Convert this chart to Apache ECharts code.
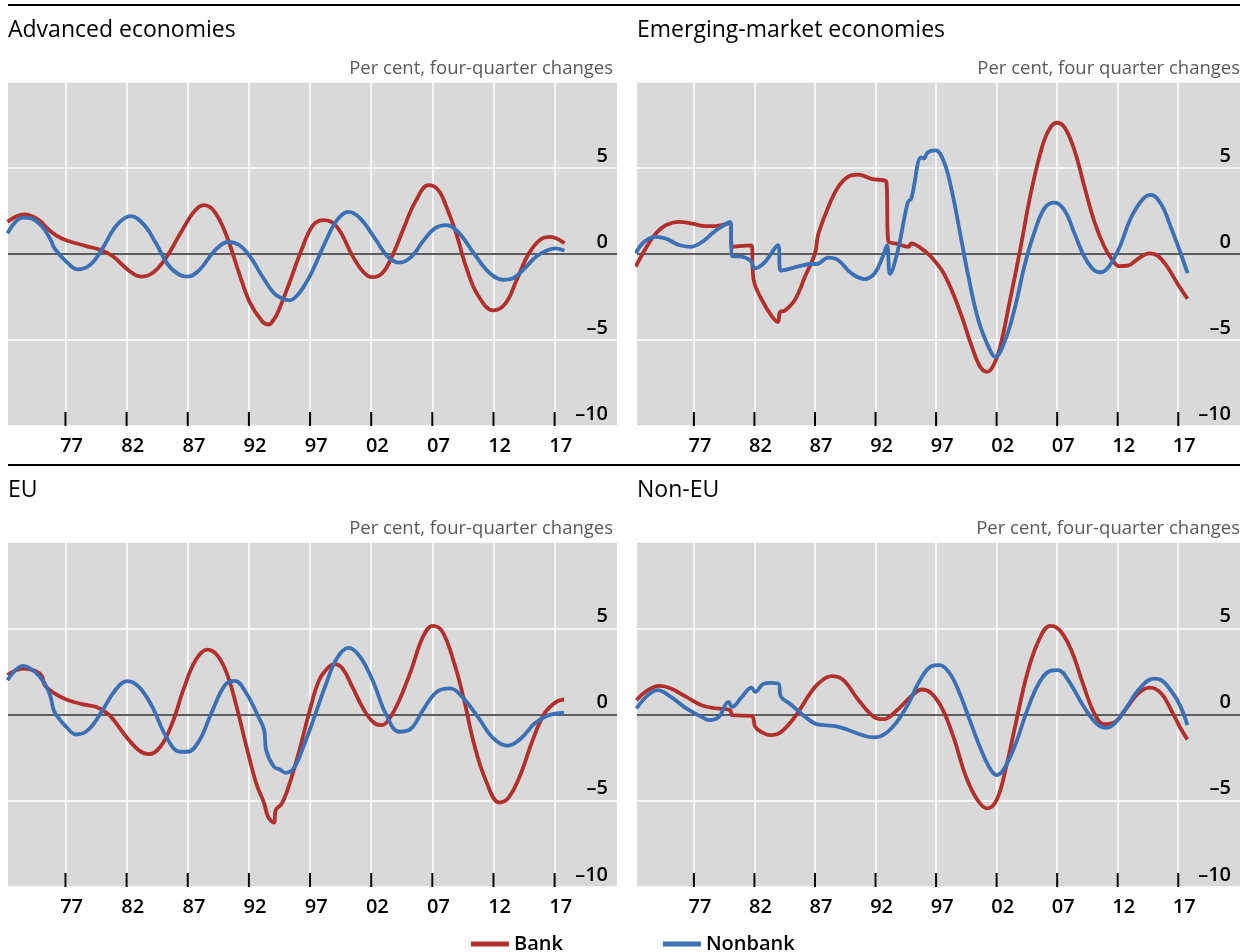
<!DOCTYPE html>
<html><head><meta charset="utf-8">
<script src="https://cdn.jsdelivr.net/npm/echarts@6/dist/echarts.min.js"></script>
<style>html,body{margin:0;padding:0;background:#fff}#c{width:1243px;height:952px}</style>
</head><body><div id="c"></div>
<script>
const panelTitles = ['Advanced economies', 'Emerging-market economies', 'EU', 'Non-EU'];
const unitLabels = ['Per cent, four-quarter changes', 'Per cent, four quarter changes', 'Per cent, four-quarter changes', 'Per cent, four-quarter changes'];
const tickYears = [1977, 1982, 1987, 1992, 1997, 2002, 2007, 2012, 2017];
const tickLabels = ['77', '82', '87', '92', '97', '02', '07', '12', '17'];
const seriesNames = ['Bank', 'Nonbank'];

const advBank = [[1972.26,1.87],[1973.0,2.2],[1973.7,2.3],[1974.4,2.15],[1975.0,1.87],[1975.5,1.5],[1976.2,1.1],[1977.05,0.8],[1978.7,0.46],[1979.9,0.23],[1980.9,-0.15],[1982.2,-0.97],[1983.15,-1.31],[1984.1,-1.12],[1985.1,-0.35],[1986.4,1.2],[1987.5,2.45],[1988.3,2.84],[1989.2,2.45],[1990.2,1.0],[1991.2,-1.12],[1992.1,-2.86],[1993.1,-3.92],[1993.6,-4.1],[1994.05,-3.8],[1994.4,-3.34],[1995.3,-1.7],[1996.3,0.23],[1997.25,1.68],[1998.15,1.97],[1999.2,1.58],[2000.5,-0.15],[2001.4,-1.08],[2002.06,-1.35],[2002.9,-1.12],[2003.7,-0.15],[2004.6,1.39],[2005.6,3.03],[2006.7,4.0],[2007.5,3.7],[2008.15,2.74],[2008.95,1.2],[2009.75,-0.73],[2010.7,-2.37],[2012.0,-3.28],[2013.0,-2.86],[2013.9,-1.5],[2014.9,0.04],[2015.85,0.85],[2016.65,1.0],[2017.8,0.62]];
const advNonbank = [[1972.26,1.2],[1973.5,2.12],[1974.2,2.07],[1975.1,1.58],[1975.8,0.81],[1976.1,0.33],[1977.06,-0.44],[1978.0,-0.89],[1979.0,-0.64],[1979.95,0.23],[1981.2,1.68],[1982.35,2.2],[1983.45,1.68],[1984.4,0.62],[1985.4,-0.64],[1986.35,-1.22],[1987.0,-1.31],[1987.95,-0.93],[1989.25,0.23],[1990.35,0.71],[1991.2,0.52],[1992.1,-0.15],[1993.1,-1.31],[1994.05,-2.28],[1994.7,-2.57],[1995.3,-2.7],[1996.1,-2.28],[1997.1,-1.12],[1998.2,0.62],[1999.2,1.97],[2000.15,2.45],[2001.1,2.07],[2002.4,0.81],[2003.35,-0.15],[2004.3,-0.5],[2005.3,-0.15],[2006.2,0.71],[2007.2,1.49],[2008.15,1.68],[2009.1,1.29],[2010.4,0.04],[2011.7,-1.12],[2012.8,-1.5],[2013.6,-1.41],[2014.55,-0.83],[2015.5,-0.15],[2016.45,0.23],[2017.1,0.33],[2017.8,0.19]];

const emeBank = [[1972.2,-0.73],[1973.03,0.33],[1973.85,1.19],[1974.67,1.67],[1975.77,1.87],[1976.86,1.77],[1977.96,1.62],[1978.78,1.62],[1980.0,1.81],[1980.15,0.42],[1980.7,0.46],[1981.74,0.5],[1981.93,-1.5],[1982.6,-2.65],[1983.44,-3.62],[1983.93,-3.94],[1984.12,-3.37],[1984.53,-3.29],[1985.36,-2.65],[1986.18,-1.31],[1987.0,0.04],[1987.27,1.15],[1988.1,2.73],[1988.9,3.88],[1989.74,4.5],[1990.56,4.62],[1991.66,4.37],[1992.9,4.17],[1993.03,0.81],[1993.85,0.58],[1994.73,0.42],[1994.95,0.62],[1995.77,0.33],[1996.5,-0.1],[1997.5,-0.97],[1998.3,-2.12],[1999.14,-3.67],[1999.96,-5.4],[2000.64,-6.56],[2001.2,-6.85],[2001.74,-6.47],[2002.29,-5.4],[2003.1,-2.7],[2003.93,0.19],[2004.75,3.28],[2005.58,5.79],[2006.26,7.14],[2006.95,7.63],[2007.63,7.34],[2008.45,5.98],[2009.27,3.86],[2010.1,1.83],[2010.92,0.39],[2011.6,-0.39],[2012.15,-0.71],[2012.84,-0.68],[2013.66,-0.29],[2014.6,0.04],[2015.3,-0.1],[2016.12,-0.77],[2016.95,-1.74],[2017.77,-2.6]];
const emeNonbank = [[1972.2,0.04],[1972.9,0.71],[1973.85,1.0],[1974.67,0.9],[1975.77,0.52],[1976.73,0.42],[1977.68,0.71],[1978.78,1.35],[1980.0,1.87],[1980.15,-0.12],[1980.97,-0.15],[1981.66,-0.38],[1982.07,-0.83],[1982.9,-0.44],[1983.93,0.52],[1984.18,-0.96],[1984.8,-0.88],[1985.9,-0.67],[1986.73,-0.58],[1987.14,-0.58],[1988.1,-0.21],[1988.9,-0.35],[1990.0,-1.12],[1991.1,-1.46],[1991.93,-1.12],[1992.6,-0.15],[1992.95,0.52],[1993.2,-1.15],[1993.85,0.23],[1994.67,3.02],[1994.95,3.21],[1995.77,5.62],[1996.0,5.55],[1996.3,5.9],[1996.95,6.02],[1997.63,5.4],[1998.3,3.67],[1999.0,1.16],[1999.68,-1.35],[2000.5,-3.86],[2001.33,-5.4],[2001.88,-5.98],[2002.7,-5.02],[2003.52,-3.09],[2004.34,-0.58],[2005.16,1.35],[2005.99,2.7],[2006.8,2.99],[2007.63,2.51],[2008.45,1.16],[2009.27,-0.19],[2010.1,-0.97],[2010.64,-1.06],[2011.33,-0.68],[2012.15,0.39],[2013.1,2.12],[2014.07,3.19],[2014.75,3.44],[2015.58,2.9],[2016.4,1.54],[2017.22,0.0],[2017.77,-1.12]];

const euBank = [[1972.26,2.28],[1973.54,2.66],[1974.5,2.53],[1975.08,2.22],[1975.3,1.7],[1976.1,1.22],[1977.06,0.87],[1978.35,0.6],[1979.63,0.41],[1980.6,-0.04],[1981.87,-1.2],[1983.0,-2.07],[1983.8,-2.3],[1984.76,-1.87],[1985.72,-0.52],[1986.68,1.51],[1987.64,3.15],[1988.6,3.76],[1989.4,3.44],[1990.2,2.37],[1991.0,0.44],[1991.8,-1.87],[1992.6,-4.0],[1993.25,-5.15],[1993.57,-5.93],[1994.05,-6.27],[1994.2,-5.54],[1994.7,-5.15],[1995.33,-4.0],[1996.13,-2.07],[1996.94,0.15],[1997.74,1.99],[1998.54,2.76],[1999.02,2.92],[1999.66,2.66],[2000.46,1.6],[2001.42,0.25],[2002.22,-0.48],[2002.87,-0.62],[2003.5,-0.23],[2004.3,0.83],[2005.27,2.57],[2006.23,4.5],[2007.03,5.14],[2007.83,4.79],[2008.8,2.95],[2009.6,0.83],[2010.4,-1.68],[2011.36,-3.8],[2012.48,-5.1],[2013.28,-4.77],[2014.24,-3.42],[2015.2,-1.49],[2016.17,0.06],[2017.13,0.73],[2017.77,0.87]];
const euNonbank = [[1972.26,1.99],[1973.54,2.82],[1974.5,2.47],[1975.3,1.8],[1975.78,1.02],[1976.1,0.15],[1977.06,-0.71],[1977.87,-1.16],[1978.83,-0.91],[1979.95,0.15],[1981.07,1.41],[1982.03,1.93],[1983.0,1.6],[1984.1,0.44],[1985.24,-1.29],[1986.36,-2.16],[1987.0,-2.16],[1987.96,-1.49],[1988.92,0.06],[1990.04,1.7],[1990.85,1.95],[1991.8,1.22],[1992.77,-0.13],[1993.25,-0.91],[1993.41,-2.07],[1994.05,-3.03],[1994.53,-3.19],[1995.0,-3.38],[1995.65,-3.13],[1996.45,-1.87],[1997.26,-0.33],[1998.22,1.6],[1999.18,3.24],[2000.14,3.86],[2001.1,3.34],[2002.22,1.8],[2003.18,0.06],[2004.3,-1.0],[2005.27,-0.81],[2006.23,0.25],[2007.35,1.31],[2008.47,1.51],[2009.44,1.02],[2010.72,-0.14],[2012.0,-1.39],[2013.12,-1.81],[2014.24,-1.39],[2015.36,-0.52],[2016.49,-0.04],[2017.77,0.1]];

const nonEuBank = [[1972.25,0.83],[1973.2,1.41],[1974.15,1.66],[1975.1,1.51],[1976.37,1.02],[1977.63,0.54],[1978.9,0.35],[1980.0,0.25],[1980.16,-0.04],[1981.75,-0.08],[1982.06,-0.71],[1982.54,-1.0],[1983.33,-1.2],[1984.28,-0.97],[1985.54,0.06],[1986.5,1.12],[1987.28,1.8],[1988.39,2.22],[1989.34,1.99],[1990.6,0.83],[1991.87,-0.14],[1992.66,-0.27],[1993.77,0.25],[1995.04,1.12],[1995.83,1.45],[1996.62,1.22],[1997.57,0.25],[1998.52,-1.49],[1999.47,-3.61],[2000.42,-4.96],[2001.2,-5.44],[2002.0,-4.96],[2002.79,-3.03],[2003.58,-0.52],[2004.53,2.37],[2005.48,4.3],[2006.43,5.14],[2007.22,4.88],[2008.17,3.73],[2009.12,1.8],[2010.07,0.06],[2010.86,-0.56],[2011.65,-0.48],[2012.6,0.25],[2013.7,1.22],[2014.66,1.56],[2015.6,1.22],[2016.56,0.06],[2017.2,-0.81],[2017.76,-1.45]];
const nonEuNonbank = [[1972.25,0.35],[1973.2,1.12],[1974.0,1.41],[1975.1,1.02],[1976.37,0.35],[1977.63,-0.14],[1978.27,-0.33],[1979.06,-0.14],[1979.85,0.73],[1980.16,0.44],[1980.96,1.02],[1981.75,1.56],[1982.06,1.31],[1982.7,1.76],[1983.33,1.83],[1983.96,1.8],[1984.2,1.02],[1984.9,0.64],[1985.86,0.06],[1986.97,-0.52],[1987.76,-0.62],[1988.7,-0.68],[1989.8,-0.91],[1990.92,-1.2],[1991.87,-1.33],[1992.82,-1.1],[1993.77,-0.42],[1994.72,0.64],[1995.67,1.99],[1996.62,2.8],[1997.25,2.86],[1998.04,2.47],[1998.84,1.41],[1999.78,-0.33],[2000.73,-2.07],[2001.53,-3.22],[2002.0,-3.51],[2002.63,-3.13],[2003.58,-1.68],[2004.53,0.25],[2005.48,1.8],[2006.43,2.53],[2007.06,2.57],[2008.0,1.89],[2009.12,0.54],[2010.23,-0.52],[2011.02,-0.77],[2011.8,-0.48],[2012.76,0.44],[2013.7,1.41],[2014.97,2.08],[2015.6,1.99],[2016.56,1.22],[2017.2,0.44],[2017.76,-0.62]];

const panelData = [[advBank, advNonbank], [emeBank, emeNonbank], [euBank, euNonbank], [nonEuBank, nonEuNonbank]];
const colors = ['#B22F2C', '#3B6FB6'];
const FONT = '"Open Sans", "Noto Sans", sans-serif';
const Y_MIN = -10, Y_MAX = 10;

const gridBoxes = [
  {left: 8, top: 82, width: 609, height: 344},
  {left: 637, top: 82, width: 603, height: 344},
  {left: 8, top: 542, width: 609, height: 345},
  {left: 637, top: 542, width: 603, height: 345}
];

const grids = [], xAxes = [], yAxes = [], series = [], graphics = [];
gridBoxes.forEach((g, i) => {
  grids.push(Object.assign({show: true, backgroundColor: '#D9D9D9', borderWidth: 0, containLabel: false}, g));
  xAxes.push({
    gridIndex: i, type: 'value', min: 1972.3, max: 2022.1, position: 'bottom',
    axisLine: {show: false, onZero: false},
    axisTick: {show: false, customValues: tickYears},
    axisLabel: {
      customValues: tickYears.map(y => y + 0.5),
      formatter: v => tickLabels[tickYears.indexOf(Math.round(v - 0.5))] || '',
      fontSize: 20, fontWeight: 600, color: '#000', margin: 10, fontFamily: FONT
    },
    splitLine: {show: true, lineStyle: {color: '#fff', width: 1.5}}
  });
  yAxes.push({
    gridIndex: i, type: 'value', min: Y_MIN, max: Y_MAX, interval: 5, position: 'right', z: 1,
    axisLine: {show: false}, axisTick: {show: false},
    axisLabel: {
      inside: true, showMaxLabel: false, margin: 9, verticalAlign: 'bottom',
      formatter: v => v < 0 ? '\u2013' + Math.abs(v) : String(v),
      fontSize: 20, fontWeight: 600, color: '#000', fontFamily: FONT, padding: [0, 0, 2, 0]
    },
    splitLine: {show: true, lineStyle: {color: ['#fff', '#fff', '#333', '#fff', '#fff'], width: 1.5}}
  });
  // inward black tick marks at the foot of each vertical gridline (custom series, placed with api.coord)
  series.push({
    type: 'custom', xAxisIndex: i, yAxisIndex: i, silent: true, z: 10, clip: false,
    data: tickYears.map(y => [y, Y_MIN]),
    renderItem: (params, api) => {
      const p = api.coord([api.value(0), api.value(1)]);
      return {
        type: 'line',
        shape: {x1: p[0], y1: p[1], x2: p[0], y2: p[1] - 14},
        style: {stroke: '#000', lineWidth: 2}
      };
    }
  });
  panelData[i].forEach((d, k) => {
    series.push({
      name: seriesNames[k], type: 'line', xAxisIndex: i, yAxisIndex: i, data: d,
      showSymbol: false, smooth: 0.4, z: 3,
      lineStyle: {color: colors[k], width: 3.8}, itemStyle: {color: colors[k]}
    });
  });
  const rowTop = i < 2 ? 0 : 460;
  graphics.push({type: 'text', left: g.left, top: rowTop + 19,
    style: {text: panelTitles[i], fontSize: 23, fill: '#000', fontFamily: FONT}});
  graphics.push({type: 'text', right: 1243 - (g.left + g.width) + (i % 2 === 0 ? 4 : 0), top: rowTop + 59,
    style: {text: unitLabels[i], fontSize: 18.5, fill: '#595959', fontFamily: FONT}});
});
graphics.push({type: 'rect', shape: {x: 8, y: 4, width: 1232, height: 2}, style: {fill: '#000'}});
graphics.push({type: 'rect', shape: {x: 8, y: 464, width: 1232, height: 2}, style: {fill: '#000'}});

const chart = echarts.init(document.getElementById('c'), null, {renderer: 'canvas'});
chart.setOption({
  animation: false,
  backgroundColor: '#fff',
  grid: grids, xAxis: xAxes, yAxis: yAxes, series: series, graphic: graphics,
  legend: {
    data: seriesNames, left: 466, top: 929, icon: 'rect', itemWidth: 38, itemHeight: 5, itemGap: 100,
    textStyle: {fontSize: 20, fontWeight: 600, color: '#000', fontFamily: FONT}
  }
});
</script></body></html>
